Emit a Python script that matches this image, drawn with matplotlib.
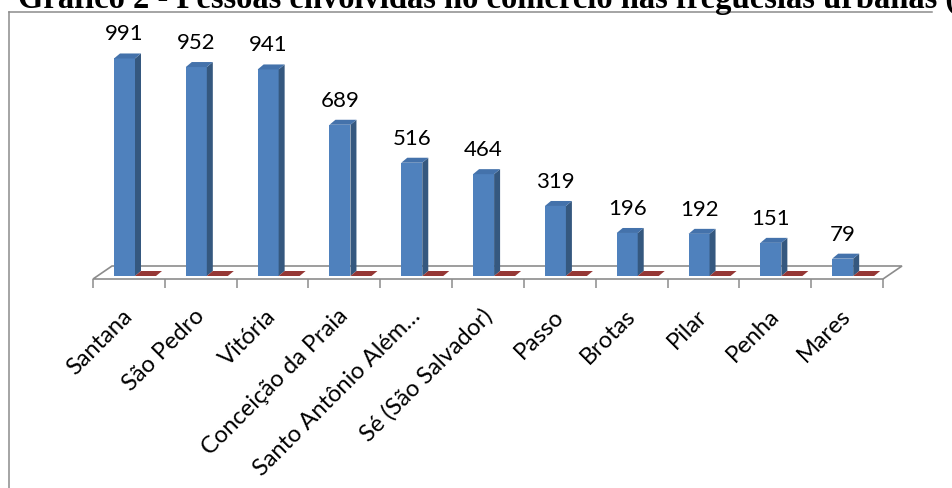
import matplotlib
matplotlib.use('Agg')
from matplotlib import pyplot as plt
from matplotlib.patches import Polygon
from matplotlib.lines import Line2D
import matplotlib.transforms as mtransforms

plt.rcParams['font.family'] = ['Lato', 'DejaVu Sans']

freguesias = ['Santana', 'São Pedro', 'Vitória', 'Conceição da Praia',
              'Santo Antônio Além…', 'Sé (São Salvador)', 'Passo', 'Brotas',
              'Pilar', 'Penha', 'Mares']
pessoas = [991, 952, 941, 689, 516, 464, 319, 196, 192, 151, 79]
serie2 = [0, 0, 0, 0, 0, 0, 0, 0, 0, 0, 0]

titulo = 'Gráfico 2 - Pessoas envolvidas no comércio nas freguesias urbanas (1872)'

W, H = 952, 488
fig = plt.figure(figsize=(W / 100, H / 100), dpi=100)

# pixel layout of the plot area (front edge of the floor is the axes bottom)
left_px, right_px, floor_px, top_px, base_px = 93, 883, 279, 20, 276
ppu = 0.2195                     # pixels per person
cat_px = (right_px - left_px) / len(freguesias)

ax = fig.add_axes([left_px / W, 1 - floor_px / H,
                   (right_px - left_px) / W, (floor_px - top_px) / H])
y0 = -(floor_px - base_px) / ppu
ax.set_xlim(0, len(freguesias))
ax.set_ylim(y0, (base_px - top_px) / ppu)
for s in ax.spines.values():
    s.set_visible(False)
ax.set_yticks([])
ax.set_xticks(range(len(freguesias) + 1))
ax.set_xticklabels([])
ax.tick_params(axis='x', length=6.5, width=1.1, color='#8c8c8c', direction='out')

# depth of the 3d effect, in data units
ddx = 6 / cat_px
ddy = 5 / ppu
fdx = 19 / cat_px
fdy = (floor_px - 266) / ppu + y0

floor = Polygon([(0, y0), (len(freguesias), y0),
                 (len(freguesias) + fdx, fdy), (fdx, fdy)],
                closed=True, facecolor='white', edgecolor='#8c8c8c',
                lw=1.2, clip_on=False, zorder=1)
ax.add_patch(floor)


def bar3d(xl, w, v, front, side, top):
    xr = xl + w
    if v > 0:
        ax.add_patch(Polygon([(xl, 0), (xr, 0), (xr, v), (xl, v)],
                             facecolor=front, edgecolor='none', zorder=3, clip_on=False))
        ax.add_patch(Polygon([(xr, 0), (xr + ddx, ddy), (xr + ddx, v + ddy), (xr, v)],
                             facecolor=side, edgecolor='none', zorder=3, clip_on=False))
    ax.add_patch(Polygon([(xl, v), (xr, v), (xr + ddx, v + ddy), (xl + ddx, v + ddy)],
                         facecolor=top, edgecolor='none', zorder=3, clip_on=False))


bw = 21 / cat_px
off = 21 / cat_px
for i, (v, s2) in enumerate(zip(pessoas, serie2)):
    xl = i + off
    bar3d(xl, bw, v, '#4f81bd', '#35587f', '#4472ab')
    bar3d(xl + bw, bw, s2, '#953735', '#6e2826', '#953735')
    ax.annotate(str(v), (xl + bw / 2, v), xytext=(0, 13), textcoords='offset points',
                ha='center', va='baseline', fontsize=16, color='black')

trans = mtransforms.blended_transform_factory(ax.transData, ax.transAxes)
for i, nome in enumerate(freguesias):
    ax.annotate(nome, (i + 0.5, 0), xycoords=trans, xytext=(-5, -19),
                textcoords='offset points', rotation=45, rotation_mode='anchor',
                ha='right', va='top', fontsize=17, color='black')

fig.text(18 / W, 1 - 8 / H, titulo, family='Liberation Serif', weight='bold',
         fontsize=23.5, va='baseline', ha='left')

# chart frame (only top and left edges fall inside the image)
fig.add_artist(Line2D([8.5 / W, 932 / W], [1 - 11.5 / H, 1 - 11.5 / H],
                      transform=fig.transFigure, color='#8c8c8c', lw=1.1))
fig.add_artist(Line2D([8.5 / W, 8.5 / W], [1 - 11.5 / H, 0],
                      transform=fig.transFigure, color='#8c8c8c', lw=1.1))

fig.savefig('out.png', dpi=100)
